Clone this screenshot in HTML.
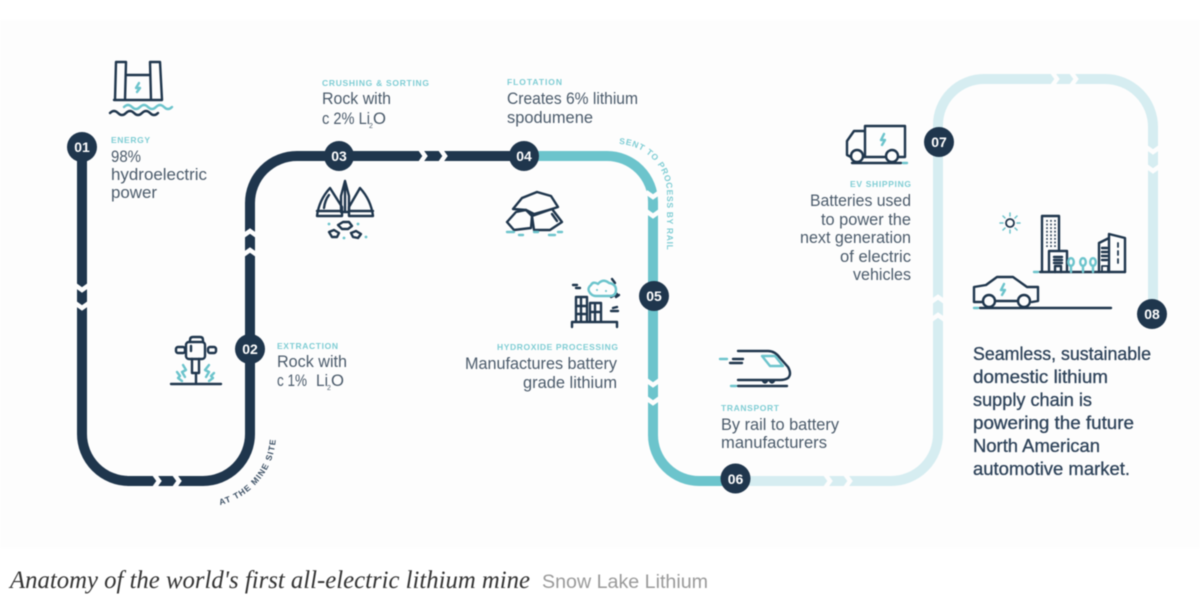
<!DOCTYPE html>
<html lang="en"><head><meta charset="utf-8"><title>Anatomy of the world's first all-electric lithium mine</title>
<style>
html,body{margin:0;padding:0;background:#fff;width:1200px;height:605px;overflow:hidden}
svg{display:block;position:absolute;left:0;top:0;filter:blur(.4px)}
text{font-family:"Liberation Sans",sans-serif}
.b{font-size:17px;fill:#4b5b6b}
.h{font-size:8.500px;font-weight:700;fill:#7fcdd4}
.s{font-size:18.500px;fill:#2d4259;stroke:#2d4259;stroke-width:.3}
.n{font-size:14px;font-weight:700;fill:#fff;text-anchor:middle}
.c{font-size:8.500px;font-weight:700;letter-spacing:1.100px}
.ic{fill:none;stroke:#1f364d;stroke-width:2.400;stroke-linejoin:round;stroke-linecap:round}
.ict{fill:none;stroke:#6cc4cc;stroke-width:2.400;stroke-linejoin:round;stroke-linecap:round}
.g{fill:none;stroke:#fdfdfd;stroke-width:4.500}
</style></head><body>
<svg width="1200" height="605" viewBox="0 0 1200 605" xmlns="http://www.w3.org/2000/svg">
<rect width="1200" height="605" fill="#fff"/>
<rect x="0" y="20" width="1200" height="528" fill="#fdfdfd"/>

<!-- connectors -->
<g fill="none" stroke-width="10">
<path d="M82 147V434A47 47 0 0 0 129 481H203A47 47 0 0 0 250 434V203A47 47 0 0 1 297 156H524" stroke="#1f364d"/>
<path d="M524 156H607A46 46 0 0 1 653 202V435A46 46 0 0 0 699 481H735" stroke="#6cc4cc"/>
<path d="M735 481H891A47 47 0 0 0 938 434V125A46 46 0 0 1 984 79H1105A48 48 0 0 1 1153 127V314" stroke="#d6edf1"/>
</g>
<!-- chevron gaps -->
<g class="g">
<polyline points="75,285 82,290 89,285"/><polyline points="75,303 82,308 89,303"/>
<polyline points="154,474 159,481 154,488"/><polyline points="174,474 179,481 174,488"/>
<polyline points="243,255 250,250 257,255"/><polyline points="243,236 250,231 257,236"/>
<polyline points="420,149 425,156 420,163"/><polyline points="440,149 445,156 440,163"/>
<polyline points="646,192 653,197 660,192"/><polyline points="646,211 653,216 660,211"/>
<polyline points="646,380 653,385 660,380"/><polyline points="646,398 653,403 660,398"/>
<polyline points="825,474 830,481 825,488"/><polyline points="845,474 850,481 845,488"/>
<polyline points="931,320 938,315 945,320"/><polyline points="931,302 938,297 945,302"/>
<polyline points="1052,72 1057,79 1052,86"/><polyline points="1071,72 1076,79 1071,86"/>
<polyline points="1146,147 1153,152 1160,147"/><polyline points="1146,166 1153,171 1160,166"/>
</g>

<!-- nodes -->
<g fill="#1f364d">
<circle cx="82" cy="147" r="15"/><circle cx="250" cy="349" r="15"/><circle cx="339" cy="156" r="15"/><circle cx="524" cy="156" r="15"/>
<circle cx="654" cy="296" r="15"/><circle cx="735.5" cy="478.500" r="15"/><circle cx="939" cy="142" r="15"/><circle cx="1152" cy="314" r="15"/>
</g>
<text class="n" x="82" y="152">01</text><text class="n" x="250" y="354">02</text><text class="n" x="339" y="161">03</text><text class="n" x="524" y="161">04</text>
<text class="n" x="654" y="301">05</text><text class="n" x="735.5" y="484">06</text><text class="n" x="939" y="147">07</text><text class="n" x="1152" y="319">08</text>

<!-- curved labels -->
<defs>
<path id="p1" d="M220 505A73 73 0 0 0 276 434"/>
<path id="p2" d="M619 144A50 50 0 0 1 667 195V285"/>
</defs>
<text class="c" fill="#3d5166"><textPath href="#p1">AT THE MINE SITE</textPath></text>
<text class="c" fill="#7fcdd4" style="letter-spacing:.7px"><textPath href="#p2">SENT TO PROCESS BY RAIL</textPath></text>

<!-- labels -->
<text class="h" x="111" y="143" textLength="39">ENERGY</text>
<text class="b" x="111" y="162" textLength="30" lengthAdjust="spacingAndGlyphs">98%</text>
<text class="b" x="111" y="180" textLength="96" lengthAdjust="spacingAndGlyphs">hydroelectric</text>
<text class="b" x="111" y="198" textLength="46" lengthAdjust="spacingAndGlyphs">power</text>

<text class="h" x="277" y="349" textLength="61">EXTRACTION</text>
<text class="b" x="277" y="367" textLength="70" lengthAdjust="spacingAndGlyphs">Rock with</text>
<text class="b" x="277" y="386" textLength="30" lengthAdjust="spacingAndGlyphs">c 1%</text>
<text class="b" x="316" y="386" textLength="12" lengthAdjust="spacingAndGlyphs">Li</text>
<text class="b" x="327" y="390" style="font-size:7px">2</text>
<text class="b" x="331" y="386" textLength="13" lengthAdjust="spacingAndGlyphs">O</text>

<text class="h" x="322" y="86" textLength="107">CRUSHING &amp; SORTING</text>
<text class="b" x="322" y="104" textLength="69" lengthAdjust="spacingAndGlyphs">Rock with</text>
<text class="b" x="322" y="124" textLength="48" lengthAdjust="spacingAndGlyphs">c 2% Li</text>
<text class="b" x="369" y="128" style="font-size:7px">2</text>
<text class="b" x="373" y="124" textLength="13" lengthAdjust="spacingAndGlyphs">O</text>

<text class="h" x="507" y="85" textLength="55">FLOTATION</text>
<text class="b" x="507" y="104" textLength="131" lengthAdjust="spacingAndGlyphs">Creates 6% lithium</text>
<text class="b" x="507" y="123" textLength="86" lengthAdjust="spacingAndGlyphs">spodumene</text>

<text class="h" x="497" y="350" textLength="121">HYDROXIDE PROCESSING</text>
<text class="b" x="465" y="369" textLength="152" lengthAdjust="spacingAndGlyphs">Manufactures battery</text>
<text class="b" x="523" y="388" textLength="94" lengthAdjust="spacingAndGlyphs">grade lithium</text>

<text class="h" x="721" y="411" textLength="58">TRANSPORT</text>
<text class="b" x="721" y="430" textLength="118" lengthAdjust="spacingAndGlyphs">By rail to battery</text>
<text class="b" x="721" y="448" textLength="106" lengthAdjust="spacingAndGlyphs">manufacturers</text>

<text class="h" x="850" y="187" textLength="61">EV SHIPPING</text>
<text class="b" x="810" y="206" textLength="101" lengthAdjust="spacingAndGlyphs">Batteries used</text>
<text class="b" x="821" y="225" textLength="90" lengthAdjust="spacingAndGlyphs">to power the</text>
<text class="b" x="800" y="243" textLength="111" lengthAdjust="spacingAndGlyphs">next generation</text>
<text class="b" x="840" y="262" textLength="71" lengthAdjust="spacingAndGlyphs">of electric</text>
<text class="b" x="853" y="280" textLength="58" lengthAdjust="spacingAndGlyphs">vehicles</text>

<text class="s" x="973" y="360" textLength="178" lengthAdjust="spacingAndGlyphs">Seamless, sustainable</text>
<text class="s" x="973" y="383" textLength="135" lengthAdjust="spacingAndGlyphs">domestic lithium</text>
<text class="s" x="973" y="406" textLength="119" lengthAdjust="spacingAndGlyphs">supply chain is</text>
<text class="s" x="973" y="429" textLength="161" lengthAdjust="spacingAndGlyphs">powering the future</text>
<text class="s" x="973" y="452" textLength="127" lengthAdjust="spacingAndGlyphs">North American</text>
<text class="s" x="973" y="475" textLength="157" lengthAdjust="spacingAndGlyphs">automotive market.</text>

<!-- dam -->
<g class="ic">
<path d="M116 62H126L125 100H115ZM150 62H160L162 100H151ZM126 75H150M114 100H162"/>
<path d="M110 113q4 -4 8 0t8 0t8 0t8 0t8 0t8 0"/>
</g>
<g class="ict">
<path d="M124 107q4 -4 8 0t8 0t8 0t8 0t8 0t8 0"/>
<path d="M139 83L136 88H140L137 92"/>
</g>

<!-- jackhammer -->
<g class="ic">
<rect x="186" y="342" width="19" height="17" rx="3"/>
<path d="M190 342V340Q190 337 193 337H200Q203 337 203 340V342"/>
<rect x="176" y="347" width="9" height="6" rx="2"/><rect x="208" y="347" width="8" height="6" rx="2"/>
<path d="M192 359V373H199V359M196 373V384M171 384H221M191 346V351"/>
</g>
<g class="ict">
<path d="M183 365L186 370L182 372L185 377"/><path d="M177 372L180 376L178 378L182 381"/>
<path d="M209 365L205 370L209 372L206 377"/><path d="M214 373L211 376L213 378L209 381"/>
</g>

<!-- crusher -->
<g class="ic">
<path d="M317 216Q319 200 330 188L342 207V216ZM373 216Q371 200 360 188L349 207V216Z"/>
<path d="M341 196L345 181L349 196V212H341ZM345 181V212M317 211H342M349 211H373M324 208Q325 200 329 195"/>
<path d="M338 225L343 222H349L352 226L348 229H342Z"/>
<path d="M329 232L334 230L339 233L337 237L332 237Z"/>
<path d="M351 233L356 231L361 234L358 238L353 237Z"/>
</g>
<g fill="#6cc4cc"><circle cx="329" cy="224" r="1.400"/><circle cx="358" cy="224" r="1.400"/><circle cx="344" cy="238" r="1.400"/><circle cx="366" cy="237" r="1.400"/></g>

<!-- rocks -->
<g class="ic">
<path d="M513 209L522 198L537 192L551 196L558 207L552 209L534 214L526 210Z"/>
<path d="M507 222L516 212L526 210L532 216L531 228L514 230Z"/>
<path d="M532 216L552 209L562 222L550 230L534 230Z"/>
<path d="M552 214L557 221"/>
</g>
<g class="ict"><path d="M507 232H514M519 235H523M534 232H538M549 235H555M558 232H562"/></g>

<!-- factory -->
<g class="ic">
<path d="M572 327V322H617V327M576 321V297H587V321M590 321V303H601V321M576 306H587M576 314H587M590 312H601M595 303V321M581 297V321"/>
<path d="M573 285H577M576 288H580M612 279L615 283M616 297L619 295M611 297L617 294M611 311H618M613 308L617 307"/>
</g>
<path class="ict" d="M591 294Q586 289 591 285Q593 281 598 284Q603 278 609 283Q616 284 616 290Q616 296 610 296H596Q593 296 591 294Z"/>
<g fill="#6cc4cc"><circle cx="597" cy="290" r="1"/><circle cx="606" cy="291" r="1"/></g>

<!-- train -->
<g class="ic">
<path d="M738 351H768Q775 351 780 358L788 367Q792 374 788 378Q785 380 780 380H738"/>
<path d="M738 386H787M730 363H742M733 359H743"/>
<path d="M763 381q2 3 4 0M770 381q2 3 4 0"/>
</g>
<g class="ict"><path d="M762 356H775L783 366H770ZM720 359H727M731 386H736"/></g>

<!-- truck -->
<g class="ic">
<path d="M865 157V126H905V157H898M886 157H863M865 131H854L847 141V155L851 157"/>
<circle cx="857" cy="156" r="6"/><circle cx="892" cy="156" r="6"/>
<path d="M852 163H901"/>
</g>
<g class="ict"><path d="M884 134L881 140H885L882 145M903 163H907"/></g>

<!-- city -->
<circle cx="1010" cy="223" r="4" fill="none" stroke="#1f364d" stroke-width="1.800"/>
<g class="ict" style="stroke-width:1.500"><path d="M1000 223H1003M1017 223H1020M1010 213V216M1010 230V233M1003 216L1005 218M1015 228L1017 230M1017 216L1015 218M1005 228L1003 230"/></g>
<g class="ic">
<path d="M1042 272V216H1059V251M1049 272V251H1067V272M1040 272H1125"/>
<path d="M1054 257H1062M1054 260H1062M1054 263H1062M1055 272V266H1061V272"/>
<path d="M1099 272V243L1109 238V234L1125 238V272M1109 238V272"/>
<path d="M1102 248H1107M1102 252H1107M1102 256H1107M1102 260H1107"/>
<path d="M1118 243V247M1118 251V255M1118 259V263M1102 272V266H1108V272" style="stroke-width:1.800"/>
</g>
<g fill="none" stroke="#1f364d" stroke-width="1.500" stroke-dasharray="1.800 1.800"><path d="M1047 220V248M1051 220V248M1055 220V248"/></g>
<g class="ict">
<ellipse cx="1071" cy="262" rx="2.800" ry="3.800"/><ellipse cx="1083" cy="262" rx="2.800" ry="3.800"/><ellipse cx="1093" cy="262" rx="2.800" ry="3.800"/>
<path d="M1071 266V272M1083 266V272M1093 266V272M1034 272H1038"/>
</g>

<!-- car -->
<g class="ic">
<path d="M983 302H974V287L986 285L997 277H1013L1027 287H1038V301L1032 302M996 301H1017"/>
<circle cx="989" cy="301" r="6"/><circle cx="1024" cy="301" r="6"/>
<path d="M980 308H1111"/>
</g>
<g class="ict"><path d="M1004 284L1001 290H1005L1002 295M974 308H978"/></g>

<!-- caption -->
<text x="10" y="588" style="font-family:'Liberation Serif',serif;font-style:italic;font-size:25px" fill="#333" textLength="520" lengthAdjust="spacingAndGlyphs">Anatomy of the world's first all-electric lithium mine</text>
<text x="542" y="588" style="font-size:19px" fill="#9a9a9a" textLength="166" lengthAdjust="spacingAndGlyphs">Snow Lake Lithium</text>
</svg>
</body></html>
